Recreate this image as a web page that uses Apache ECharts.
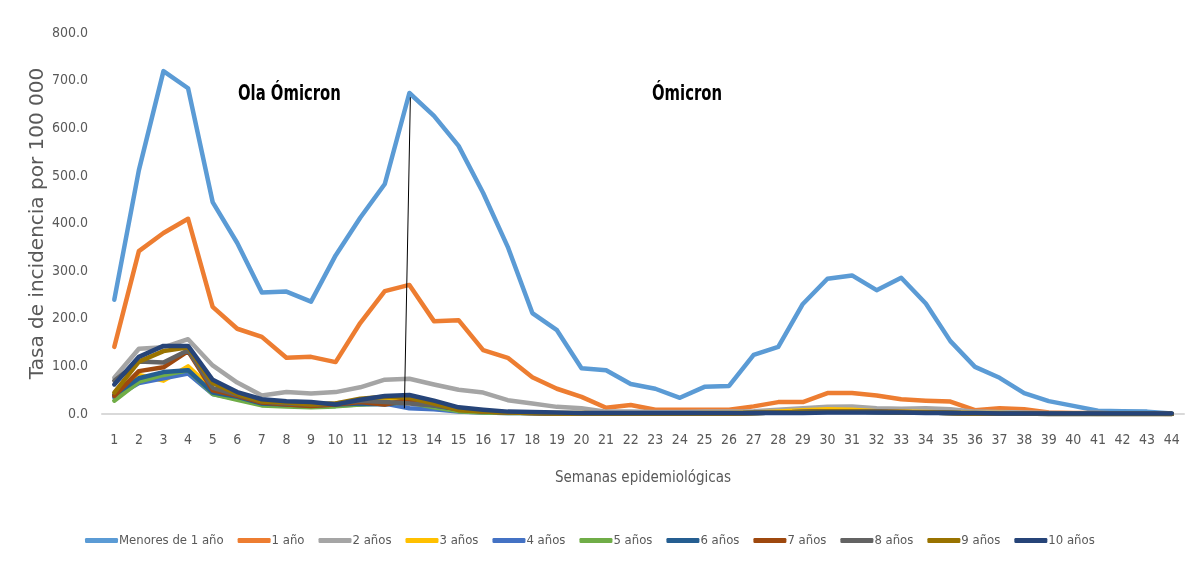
<!DOCTYPE html>
<html>
<head>
<meta charset="utf-8">
<script src="https://cdn.jsdelivr.net/npm/echarts@6/dist/echarts.min.js"></script>
<style>
  html, body { margin: 0; padding: 0; background: #fff; }
  #chart { width: 1199px; height: 571px; }
</style>
</head>
<body>
<div id="chart"></div>
<script>
// Semanas epidemiológicas 1–44
const weeks = Array.from({ length: 44 }, (_, i) => String(i + 1));

const seriesNames = ['Menores de 1 año', '1 año', '2 años', '3 años', '4 años', '5 años',
  '6 años', '7 años', '8 años', '9 años', '10 años'];

// Tasa de incidencia por 100 000, por grupo de edad
const menores1 = [240, 512, 720, 684, 445, 359, 255, 257, 236, 333, 412, 483, 674, 626, 563, 464, 351, 212, 176, 96, 92, 63, 53, 34, 57, 59, 124, 141, 231, 284, 291, 260, 286, 232, 153, 99, 76, 44, 27, 17, 7, 6, 5, 1];
const anio1 = [141, 342, 380, 410, 225, 179, 162, 118, 120, 109, 191, 258, 271, 195, 197, 134, 118, 77, 53, 36, 13, 19, 9, 9, 9, 9, 16, 25, 25, 44, 44, 39, 31, 28, 26, 8, 12, 10, 3, 2, 2, 1, 1, 0];
const anios2 = [76, 137, 140, 157, 102, 66, 39, 46, 43, 46, 56, 72, 74, 62, 51, 45, 29, 22, 15, 12, 5, 5, 4, 4, 5, 5, 6, 9, 12, 15, 16, 12, 11, 12, 10, 5, 4, 3, 2, 1, 1, 1, 1, 0];
const anios3 = [40, 82, 70, 100, 52, 35, 22, 18, 16, 20, 25, 30, 32, 20, 8, 5, 3, 2, 2, 2, 1, 1, 1, 1, 2, 2, 3, 5, 8, 10, 9, 6, 5, 4, 3, 2, 2, 1, 1, 1, 0, 0, 0, 0];
const anios4 = [35, 65, 75, 85, 42, 32, 20, 18, 16, 18, 20, 22, 12, 10, 5, 3, 2, 2, 1, 1, 1, 1, 1, 1, 1, 1, 2, 3, 4, 5, 5, 4, 3, 3, 2, 1, 1, 1, 0, 0, 0, 0, 0, 0];
const anios5 = [28, 68, 82, 92, 42, 30, 18, 16, 14, 16, 20, 22, 24, 14, 6, 3, 2, 2, 1, 1, 1, 1, 1, 1, 1, 1, 2, 3, 4, 5, 5, 4, 3, 3, 2, 1, 1, 1, 0, 0, 0, 0, 0, 0];
const anios6 = [40, 75, 88, 92, 45, 36, 22, 20, 18, 20, 22, 20, 28, 18, 10, 6, 3, 2, 1, 1, 1, 1, 1, 1, 1, 1, 2, 3, 4, 5, 5, 4, 3, 3, 2, 1, 1, 1, 0, 0, 0, 0, 0, 0];
const anios7 = [38, 90, 98, 132, 50, 38, 24, 20, 17, 20, 25, 20, 30, 20, 10, 5, 3, 2, 1, 1, 1, 1, 1, 1, 1, 1, 2, 3, 4, 6, 6, 5, 4, 3, 2, 1, 1, 1, 0, 0, 0, 0, 0, 0];
const anios8 = [70, 110, 108, 134, 55, 40, 26, 22, 20, 22, 28, 25, 22, 18, 12, 6, 3, 2, 1, 1, 1, 1, 1, 1, 1, 1, 2, 3, 4, 6, 6, 5, 4, 3, 2, 1, 1, 1, 0, 0, 0, 0, 0, 0];
const anios9 = [45, 110, 132, 140, 65, 42, 26, 24, 20, 22, 32, 36, 34, 22, 8, 5, 3, 2, 1, 1, 1, 1, 1, 1, 1, 1, 2, 3, 4, 5, 5, 4, 3, 3, 2, 1, 1, 1, 0, 0, 0, 0, 0, 0];
const anios10 = [62, 120, 143, 143, 72, 46, 31, 27, 25, 20, 30, 38, 40, 28, 14, 9, 5, 4, 3, 2, 2, 2, 2, 2, 2, 2, 2, 2, 2, 3, 3, 3, 3, 2, 2, 2, 1, 1, 1, 1, 1, 1, 1, 1];

const seriesData = [menores1, anio1, anios2, anios3, anios4, anios5, anios6, anios7, anios8, anios9, anios10];

const colors = ['#5B9BD5', '#ED7D31', '#A5A5A5', '#FFC000', '#4472C4', '#70AD47',
  '#255E91', '#9E480E', '#636363', '#997300', '#264478'];

const yTicks = { min: 0, max: 800, interval: 100 };

const narrow = '"DejaVu Sans Condensed", "Liberation Sans Narrow", sans-serif';
const textGray = '#595959';

const chart = echarts.init(document.getElementById('chart'), null, { renderer: 'canvas' });

const option = {
  animation: false,
  color: colors,
  grid: { left: 102, right: 15, top: 33, bottom: 157 },
  legend: {
    data: seriesNames,
    left: 80,
    top: 529,
    icon: 'roundRect',
    itemWidth: 33,
    itemHeight: 5,
    itemGap: 14,
    textStyle: { fontFamily: narrow, fontSize: 13, color: textGray, padding: [0, 0, 0, -4] }
  },
  xAxis: {
    type: 'category',
    data: weeks,
    boundaryGap: true,
    name: 'Semanas epidemiológicas',
    nameLocation: 'middle',
    nameGap: 57,
    nameMoveOverlap: false,
    nameTextStyle: { fontFamily: narrow, fontSize: 15, color: textGray },
    axisLine: { lineStyle: { color: '#D9D9D9', width: 2 } },
    axisTick: { show: false },
    axisLabel: { interval: 0, margin: 19, fontFamily: narrow, fontSize: 14, color: textGray },
    splitLine: { show: false }
  },
  yAxis: {
    type: 'value',
    min: yTicks.min,
    max: yTicks.max,
    interval: yTicks.interval,
    name: 'Tasa de incidencia por 100 000',
    nameLocation: 'middle',
    nameGap: 54,
    nameMoveOverlap: false,
    nameTextStyle: { fontFamily: '"DejaVu Sans", Verdana, sans-serif', fontSize: 20, color: textGray },
    axisLine: { show: false },
    axisTick: { show: false },
    splitLine: { show: false },
    axisLabel: {
      margin: 14,
      fontFamily: narrow,
      fontSize: 14,
      color: textGray,
      formatter: v => v.toFixed(1)
    }
  },
  series: seriesNames.map((name, i) => ({
    name,
    type: 'line',
    data: seriesData[i],
    symbol: 'none',
    smooth: false,
    lineStyle: { width: 4.5, color: colors[i], join: 'round', cap: 'round' },
    emphasis: { disabled: true },
    z: 2 + i
  })),
  graphic: [
    {
      type: 'line',
      shape: { x1: 4, y1: 0, x2: 4, y2: 571 },
      style: { stroke: '#D9D9D9', lineWidth: 1.5 },
      silent: true
    },
    {
      type: 'text',
      x: 238,
      y: 84,
      scaleX: 0.785,
      style: { text: 'Ola Ómicron', font: 'bold 21px ' + narrow, fill: '#000', verticalAlign: 'top' },
      z: 100
    },
    {
      type: 'text',
      x: 652,
      y: 84,
      scaleX: 0.785,
      style: { text: 'Ómicron', font: 'bold 21px ' + narrow, fill: '#000', verticalAlign: 'top' },
      z: 100
    }
  ]
};

chart.setOption(option);

// Divider between the two waves, anchored to week 13 through the axis scales
const top13 = chart.convertToPixel({ gridIndex: 0 }, ['13', 665]);
const bot13 = chart.convertToPixel({ gridIndex: 0 }, ['13', 12]);
chart.setOption({
  graphic: [
    {
      type: 'line',
      shape: { x1: top13[0] + 1, y1: top13[1], x2: bot13[0] - 5, y2: bot13[1] },
      style: { stroke: '#000', lineWidth: 1 },
      silent: true,
      z: 100
    }
  ]
});
</script>
</body>
</html>
